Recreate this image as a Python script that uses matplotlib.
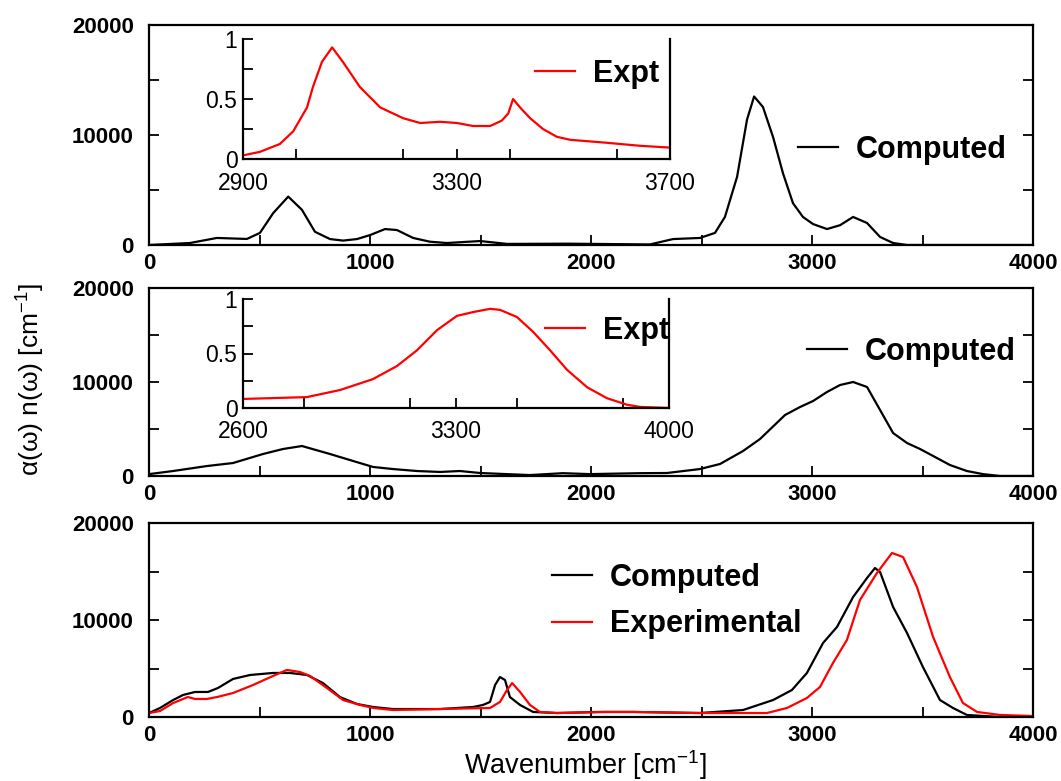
import matplotlib
matplotlib.use("Agg")
import matplotlib.pyplot as plt
from matplotlib.ticker import MultipleLocator

plt.rcParams['font.family'] = ['Liberation Sans', 'DejaVu Sans']
plt.rcParams['mathtext.fontset'] = 'custom'
plt.rcParams['mathtext.rm'] = 'Liberation Sans'

# ---------------- Panel 1 ----------------
p1_x = [0, 185, 307, 443, 502, 562, 630, 692, 751, 819, 878, 941, 1000, 1068, 1122,
        1195, 1271, 1348, 1498, 1620, 1900, 2267, 2371, 2493, 2561, 2606, 2661, 2706,
        2738, 2778, 2824, 2869, 2914, 2959, 3005, 3068, 3127, 3186, 3249, 3308, 3367,
        3430, 4000]
p1_y = [0, 180, 640, 550, 1100, 2900, 4400, 3200, 1200, 540, 400, 540, 900, 1450, 1360,
        640, 300, 180, 360, 100, 120, 50, 540, 640, 1100, 2550, 6200, 11400,
        13500, 12550, 9800, 6500, 3800, 2550, 1900, 1450, 1800, 2550, 2000, 730, 180,
        0, 0]

ins1_x = [2900, 2932, 2969, 2994, 3020, 3031, 3048, 3067, 3087, 3119, 3157, 3200, 3232,
          3269, 3301, 3331, 3363, 3385, 3397, 3406, 3419, 3438, 3462, 3488, 3513, 3582,
          3644, 3700]
ins1_y = [0.03, 0.06, 0.125, 0.23, 0.43, 0.60, 0.81, 0.93, 0.81, 0.60, 0.43, 0.34, 0.30,
          0.31, 0.30, 0.275, 0.275, 0.32, 0.38, 0.50, 0.43, 0.34, 0.25, 0.185, 0.16, 0.135,
          0.11, 0.095]

# ---------------- Panel 2 ----------------
p2_x = [0, 109, 262, 380, 516, 606, 692, 819, 923, 1014, 1104, 1213, 1317, 1407, 1498,
        1620, 1724, 1873, 1995, 2222, 2344, 2493, 2584, 2688, 2765, 2878, 2946, 3005,
        3068, 3127, 3186, 3249, 3308, 3367, 3430, 3489, 3548, 3624, 3701, 3774, 3851, 4000]
p2_y = [200, 530, 1060, 1380, 2340, 2870, 3190, 2340, 1600, 960, 740, 530, 430, 530, 320,
        200, 100, 300, 200, 300, 320, 740, 1280, 2660, 3940, 6490, 7340, 7980,
        8940, 9680, 10000, 9470, 7020, 4570, 3510, 2870, 2130, 1170, 530, 200, 0, 0]

ins2_x = [2600, 2810, 2919, 3027, 3106, 3172, 3238, 3303, 3356, 3412, 3445, 3500, 3553,
          3609, 3665, 3731, 3796, 3862, 3905, 4000]
ins2_y = [0.083, 0.10, 0.165, 0.265, 0.385, 0.53, 0.715, 0.845, 0.88, 0.91, 0.90, 0.835,
          0.70, 0.53, 0.35, 0.19, 0.09, 0.03, 0.01, 0.0]

# ---------------- Panel 3 ----------------
p3c_x = [0, 50, 109, 154, 208, 267, 312, 380, 457, 561, 638, 715, 787, 864, 941, 1014,
         1104, 1317, 1466, 1511, 1543, 1566, 1588, 1611, 1633, 1679, 1738, 1846, 2041,
         2190, 2493, 2688, 2824, 2909, 2977, 3050, 3113, 3186, 3249, 3285, 3308, 3367,
         3430, 3502, 3579, 3638, 3701, 3851, 4000]
p3c_y = [410, 930, 1750, 2270, 2580, 2580, 2990, 3920, 4330, 4540, 4540, 4330, 3500, 2060,
         1340, 1030, 820, 820, 1030, 1240, 1550, 3300, 4120, 3810, 2060, 1240, 520, 410,
         520, 520, 410, 720, 1750, 2780, 4540, 7630, 9280, 12370, 14330, 15360, 14950,
         11340, 8660, 5150, 1750, 930, 210, 0, 0]

p3e_x = [0, 50, 109, 176, 208, 262, 308, 380, 471, 561, 624, 683, 729, 805, 878, 955, 1014,
         1104, 1543, 1588, 1620, 1643, 1679, 1724, 1769, 1846, 2072, 2190, 2493, 2796,
         2887, 2977, 3036, 3095, 3158, 3217, 3294, 3362, 3412, 3475, 3548, 3624, 3683,
         3747, 3851, 4000]
p3e_y = [410, 620, 1440, 2060, 1860, 1860, 2060, 2470, 3300, 4230, 4850, 4640, 4230, 2990,
         1750, 1240, 930, 720, 930, 1550, 2780, 3500, 2580, 1240, 520, 410, 520, 520, 410,
         410, 930, 1960, 3090, 5570, 7940, 12060, 14850, 16910, 16490, 13400, 8250, 4120,
         1440, 520, 210, 100]

main_xticks = [0, 1000, 2000, 3000, 4000]
main_yticks = [0, 10000, 20000]
ins1_xticks = [2900, 3300, 3700]
ins2_xticks = [2600, 3300, 4000]
ins_yticks = [0, 0.5, 1]

W, H = 1061, 781
fig = plt.figure(figsize=(W / 100, H / 100), dpi=100)


def fx(px):
    return px / W


def fy(py):
    return 1 - py / H


def rect(l, t, r, b):
    return [fx(l), fy(b), fx(r) - fx(l), fy(t) - fy(b)]


LW = 1.6
TICKFS = 16
LEGFS = 22


def style_main(ax):
    ax.set_xlim(0, 4000)
    ax.set_ylim(0, 20000)
    ax.set_xticks(main_xticks)
    ax.set_yticks(main_yticks)
    ax.xaxis.set_minor_locator(MultipleLocator(500))
    ax.yaxis.set_minor_locator(MultipleLocator(5000))
    ax.tick_params(which='both', direction='in', top=False, right=True, width=1.3)
    ax.tick_params(which='major', length=7)
    ax.tick_params(which='minor', length=7)
    ax.tick_params(axis='x', pad=6)
    ax.tick_params(axis='y', pad=11)
    for lab in ax.get_xticklabels() + ax.get_yticklabels():
        lab.set_fontweight('bold')
        lab.set_fontsize(TICKFS)
    for s in ax.spines.values():
        s.set_linewidth(1.6)


def style_inset(ax, xlim, xticks, xminor):
    ax.set_xlim(*xlim)
    ax.set_ylim(0, 1)
    ax.set_xticks(xticks)
    ax.set_yticks(ins_yticks)
    ax.set_yticklabels(['0', '0.5', '1'])
    ax.xaxis.set_minor_locator(MultipleLocator(xminor))
    ax.yaxis.set_minor_locator(MultipleLocator(0.25))
    ax.spines['top'].set_visible(False)
    ax.tick_params(which='both', direction='in', top=False, right=False, width=1.3,
                   length=7, labelsize=16.5)
    ax.tick_params(axis='x', pad=9)
    ax.tick_params(axis='y', pad=4)
    for s in ax.spines.values():
        s.set_linewidth(1.6)
    ax.patch.set_alpha(0)


def add_leg(ax, handles, labels, x, y, spacing=0.7):
    leg = fig.legend(handles, labels, loc='center left', bbox_to_anchor=(fx(x), fy(y)),
                     bbox_transform=fig.transFigure, frameon=False, borderpad=0,
                     borderaxespad=0, handlelength=1.3, handletextpad=0.6,
                     labelspacing=spacing, prop={'weight': 'bold', 'size': LEGFS})
    return leg


# Panel 1
ax1 = fig.add_axes(rect(149, 25, 1033, 245))
l1, = ax1.plot(p1_x, p1_y, color='black', lw=LW)
style_main(ax1)
in1 = fig.add_axes(rect(243, 39, 670, 159))
e1, = in1.plot(ins1_x, ins1_y, color='red', lw=LW)
style_inset(in1, (2900, 3700), ins1_xticks, 200)
add_leg(ax1, [l1], ['Computed'], 798, 150)
add_leg(in1, [e1], ['Expt'], 535, 74)

# Panel 2
ax2 = fig.add_axes(rect(149, 288, 1033, 476))
l2, = ax2.plot(p2_x, p2_y, color='black', lw=LW)
style_main(ax2)
in2 = fig.add_axes(rect(243, 299, 669, 408))
e2, = in2.plot(ins2_x, ins2_y, color='red', lw=LW)
style_inset(in2, (2600, 4000), ins2_xticks, 350)
add_leg(ax2, [l2], ['Computed'], 807, 352)
add_leg(in2, [e2], ['Expt'], 545, 331)

# Panel 3
ax3 = fig.add_axes(rect(149, 523, 1033, 717))
l3, = ax3.plot(p3c_x, p3c_y, color='black', lw=LW)
e3, = ax3.plot(p3e_x, p3e_y, color='red', lw=LW)
style_main(ax3)
add_leg(ax3, [l3, e3], ['Computed', 'Experimental'], 552, 601, spacing=0.55)

fig.text(fx(585), fy(765), 'Wavenumber [cm$^{-1}$]', ha='center', va='center',
         fontsize=19.5)
fig.text(fx(30), fy(380), 'α(ω) n(ω) [cm$^{-1}$]', rotation=90,
         ha='center', va='center', fontsize=19)

fig.savefig('out.png', dpi=100)
